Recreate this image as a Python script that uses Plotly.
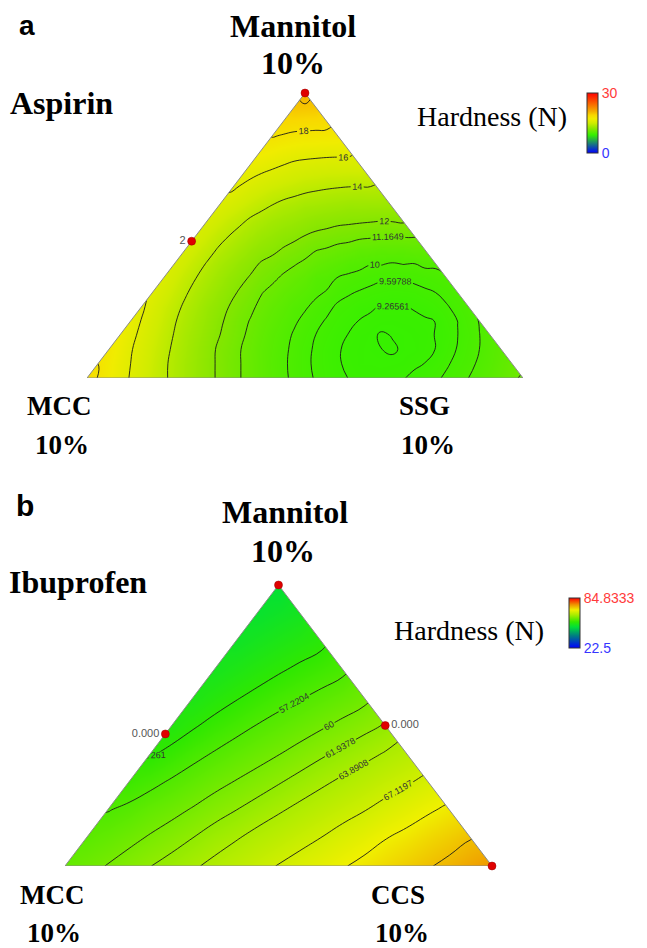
import plotly.graph_objects as go

# ---------------- data ----------------
# Hardness (N).
# Row i is Mannitol fraction i/n (bottom row = 0, top vertex = 1).
# In rows i >= 1, item k is the right-hand component fraction k/n (rest is MCC).
# The bottom row (Mannitol = 0) is read at twice that resolution (step 1/(2n)).
lattice_n_a = 20
hardness_aspirin = [
    [18.7, 17.95, 17.2, 16.55, 15.9, 15.3, 14.7, 14.2, 13.7, 13.2, 12.7, 12.3, 11.9, 11.55, 11.2, 10.9, 10.6, 10.35,
     10.1, 9.89, 9.71, 9.56, 9.43, 9.33, 9.26, 9.21, 9.18, 9.18, 9.20, 9.25, 9.32, 9.41, 9.53, 9.67, 9.83, 10.0,
     10.2, 10.45, 10.7, 11.0, 11.3],
    [18.0, 16.6, 15.4, 14.2, 13.2, 12.3, 11.5, 10.9, 10.3, 9.86, 9.52, 9.29, 9.15, 9.14, 9.16, 9.27, 9.55, 9.85, 10.3, 10.9],
    [17.5, 16.1, 14.9, 13.8, 12.8, 11.9, 11.2, 10.6, 10.1, 9.69, 9.39, 9.19, 9.13, 9.09, 9.14, 9.27, 9.62, 10.0, 10.5],
    [17.0, 15.7, 14.5, 13.4, 12.5, 11.7, 11.0, 10.4, 9.94, 9.59, 9.33, 9.17, 9.09, 9.13, 9.18, 9.40, 9.75, 10.2],
    [16.6, 15.3, 14.1, 13.1, 12.2, 11.4, 10.8, 10.3, 9.87, 9.55, 9.33, 9.20, 9.16, 9.18, 9.27, 9.60, 10.02],
    [16.2, 14.9, 13.8, 12.8, 12.0, 11.3, 10.7, 10.2, 9.87, 9.52, 9.33, 9.24, 9.24, 9.33, 9.56, 9.90],
    [15.9, 14.7, 13.6, 12.7, 11.9, 11.2, 10.7, 10.3, 9.96, 9.64, 9.48, 9.40, 9.44, 9.60, 9.86],
    [15.7, 14.5, 13.5, 12.6, 11.9, 11.3, 10.8, 10.25, 9.97, 9.80, 9.65, 9.62, 9.75, 9.92],
    [15.5, 14.4, 13.4, 12.6, 11.9, 11.4, 11.0, 10.55, 10.2, 10.02, 9.95, 9.98, 10.08],
    [15.4, 14.4, 13.5, 12.7, 12.2, 11.7, 11.2, 10.9, 10.6, 10.5, 10.5, 10.6],
    [15.4, 14.4, 13.6, 12.9, 12.4, 12.0, 11.7, 11.5, 11.3, 11.2, 11.25],
    [15.5, 14.6, 13.8, 13.2, 12.8, 12.4, 12.2, 12.1, 12.0, 12.1],
    [15.7, 14.9, 14.2, 13.6, 13.2, 13.0, 12.8, 12.8, 12.8],
    [16.0, 15.2, 14.6, 14.2, 13.9, 13.7, 13.6, 13.6],
    [16.4, 15.7, 15.2, 14.8, 14.6, 14.5, 14.5],
    [16.8, 16.3, 15.8, 15.6, 15.5, 15.5],
    [17.4, 16.9, 16.6, 16.5, 16.5],
    [18.1, 17.7, 17.6, 17.5],
    [18.9, 18.7, 18.6],
    [19.8, 19.7],
    [20.8],
]
lattice_n_b = 10
hardness_ibuprofen = [
    [58.6, 59.35, 60.1, 61.0, 61.9, 62.7, 63.6, 64.45, 65.4, 66.3, 67.25, 68.1, 68.9, 69.8, 70.65, 71.5, 72.4,
     73.3, 74.2, 75.25, 76.3],
    [58.0, 59.4, 61.1, 62.9, 64.6, 66.3, 68.1, 69.9, 71.6, 73.4],
    [57.1, 58.6, 60.2, 61.9, 63.6, 65.3, 67.0, 68.8, 70.5],
    [55.8, 57.5, 59.3, 60.9, 62.6, 64.3, 66.0, 67.7],
    [54.4, 56.5, 58.3, 59.9, 61.6, 63.2, 64.9],
    [53.3, 55.5, 57.3, 58.9, 60.5, 62.1],
    [52.4, 54.5, 56.3, 57.8, 59.4],
    [51.6, 53.5, 55.2, 56.7],
    [50.7, 52.5, 54.1],
    [49.8, 51.4],
    [48.9],
]
levels_aspirin = [9.11035, 9.26561, 9.59788, 10, 11.1649, 12, 14, 16, 18, 20]
levels_ibuprofen = [54.7261, 57.2204, 60, 61.9378, 63.8908, 67.1197, 70, 73.5247]
colorbar_range_aspirin = [0, 30]
colorbar_range_ibuprofen = [22.5, 84.8333]
# design points as (Mannitol, MCC, right component) fractions, with their labels
design_aspirin = [(1, 0, 0), (0.48, 0.52, 0)]
design_aspirin_labels = ['', '2']
design_ibuprofen = [(1, 0, 0), (0.47, 0.53, 0), (0.5, 0, 0.5), (0, 0, 1)]
design_ibuprofen_labels = ['', '0.000', '0.000', '']

# ---------------- helpers ----------------
# the page body adds an 8 px margin, so the figure is 8 px smaller and positions are shifted
OFF = 8
W, H = 647 - OFF, 948 - OFF
def px(x): return (x - OFF) / W
def py(y): return 1 - (y - OFF) / H

def to_xy(man, mcc, right):
    # Mannitol at the top vertex, MCC bottom-left, right component bottom-right
    return right + man / 2.0, man

def grid(rows, n):
    nx = 2 * n + 1
    z = [[None] * nx for _ in range(n + 1)]
    for i, row in enumerate(rows):
        step = 1 if len(row) == nx - 2 * i else 2
        for k, val in enumerate(row):
            z[i][i + step * k] = val
    xs = [j / (2.0 * n) for j in range(nx)]
    ys = [i / float(n) for i in range(n + 1)]
    return xs, ys, z

xa, ya, za = grid(hardness_aspirin, lattice_n_a)
xb, yb, zb = grid(hardness_ibuprofen, lattice_n_b)

scale_a = [[0, '#0000ff'], [0.30, '#34f000'], [0.40, '#84e600'], [0.50, '#d0ec00'], [0.57, '#f0ec00'],
           [0.63, '#f8d800'], [0.69, '#f4b000'], [1.0, '#ff0000']]
scale_b = [[0, '#0000ff'], [0.25, '#008080'], [0.42, '#00e038'], [0.52, '#30e800'], [0.66, '#a8ec00'],
           [0.76, '#f0f000'], [0.87, '#f09000'], [1, '#ff0000']]

fig = go.Figure()

def cbar(xpix, ypix, lenpix, rng, lo_txt, hi_txt):
    return dict(x=px(xpix), xanchor='left', y=py(ypix), yanchor='middle', len=lenpix / H, lenmode='fraction',
                thickness=11, xpad=0, ypad=0, outlinewidth=1, outlinecolor='#333', tickvals=rng,
                ticktext=['<span style="color:#3535ff">%s</span>' % lo_txt,
                          '<span style="color:#ff3a3a">%s</span>' % hi_txt],
                ticks='', tickfont=dict(family='Liberation Sans', size=14))

fig.add_trace(go.Contour(x=xa, y=ya, z=za, xaxis='x', yaxis='y', zmin=colorbar_range_aspirin[0],
    zmax=colorbar_range_aspirin[1], colorscale=scale_a, connectgaps=True,
    contours=dict(coloring='heatmap', showlines=False),
    ncontours=40, line=dict(width=0), hoverinfo='skip',
    colorbar=cbar(587, 123, 60, colorbar_range_aspirin, '0', '30')))
fig.add_trace(go.Contour(x=xb, y=yb, z=zb, xaxis='x2', yaxis='y2', zmin=colorbar_range_ibuprofen[0],
    zmax=colorbar_range_ibuprofen[1], colorscale=scale_b, connectgaps=True,
    contours=dict(coloring='heatmap', showlines=False),
    ncontours=40, line=dict(width=0), hoverinfo='skip',
    colorbar=cbar(569, 623, 50, colorbar_range_ibuprofen, '22.5', '84.8333')))

for xs, ys, z, levels, xr, yr in [(xa, ya, za, levels_aspirin, 'x', 'y'), (xb, yb, zb, levels_ibuprofen, 'x2', 'y2')]:
    for L in levels:
        fig.add_trace(go.Contour(x=xs, y=ys, z=z, xaxis=xr, yaxis=yr, showscale=False, hoverinfo='skip',
            connectgaps=True,
            contours=dict(start=L, end=L, size=1, coloring='none', showlabels=True, labelformat='.6~g',
                          labelfont=dict(family='Liberation Sans', size=9, color='#333')),
            line=dict(color='#1a1a1a', width=0.9, smoothing=1.3)))
    # white masks outside the mixture triangle, then its outline
    fig.add_trace(go.Scatter(x=[0, 0.5, 0, 0], y=[0, 1, 1, 0], xaxis=xr, yaxis=yr, fill='toself',
                             fillcolor='white', mode='lines', line=dict(width=0, color='white'),
                             hoverinfo='skip', showlegend=False))
    fig.add_trace(go.Scatter(x=[1, 0.5, 1, 1], y=[0, 1, 1, 0], xaxis=xr, yaxis=yr, fill='toself',
                             fillcolor='white', mode='lines', line=dict(width=0, color='white'),
                             hoverinfo='skip', showlegend=False))
    fig.add_trace(go.Scatter(x=[0, 1, 0.5, 0], y=[0, 0, 1, 0], xaxis=xr, yaxis=yr, mode='lines',
                             line=dict(color='#8a8a8a', width=1), hoverinfo='skip', showlegend=False,
                             cliponaxis=False))

for pts, labs, pos, xr, yr in [
        (design_aspirin, design_aspirin_labels, ['middle left'] * 2, 'x', 'y'),
        (design_ibuprofen, design_ibuprofen_labels,
         ['middle left', 'middle left', 'middle right', 'middle right'], 'x2', 'y2')]:
    xy = [to_xy(*p) for p in pts]
    fig.add_trace(go.Scatter(x=[p[0] for p in xy], y=[p[1] for p in xy], xaxis=xr, yaxis=yr,
        mode='markers+text', text=labs, textposition=pos,
        textfont=dict(family='Liberation Sans', size=11, color='#555'),
        marker=dict(color='#e00000', size=8, line=dict(color='#900', width=0.5)), cliponaxis=False,
        hoverinfo='skip', showlegend=False))

ax = dict(visible=False, showgrid=False, zeroline=False, range=[0, 1], fixedrange=True)
fig.update_layout(
    width=W, height=H, margin=dict(l=0, r=0, t=0, b=0), plot_bgcolor='white', paper_bgcolor='white',
    showlegend=False,
    xaxis=dict(ax, domain=[px(87), px(523)]), yaxis=dict(ax, domain=[py(378), py(93)]),
    xaxis2=dict(ax, domain=[px(65), px(492)]), yaxis2=dict(ax, domain=[py(866), py(585)]))

serif = 'Liberation Serif'
def ann(t, x, y, size, bold=True, fam=serif, yanchor='middle'):
    fig.add_annotation(text=('<b>%s</b>' % t) if bold else t, x=px(x), y=py(y), xref='paper', yref='paper',
                       showarrow=False, xanchor='center', yanchor=yanchor,
                       font=dict(family=fam, size=size, color='black'))

ann('a', 27, OFF, 28, fam='Liberation Sans', yanchor='top'); ann('b', 25, 505, 30, fam='Liberation Sans')
ann('Mannitol', 293, 26, 32); ann('10%', 293, 63, 32)
ann('Aspirin', 61, 103, 32)
ann('Hardness (N)', 492, 117, 28, bold=False)
ann('MCC', 59, 406, 27); ann('10%', 62, 445, 27)
ann('SSG', 424, 406, 27); ann('10%', 428, 445, 27)
ann('Mannitol', 285, 512, 32); ann('10%', 283, 551, 32)
ann('Ibuprofen', 78, 582, 32)
ann('Hardness (N)', 469, 630, 28, bold=False)
ann('MCC', 52, 895, 27); ann('10%', 54, 933, 27)
ann('CCS', 398, 895, 27); ann('10%', 402, 933, 27)

fig.write_html('out.html')
